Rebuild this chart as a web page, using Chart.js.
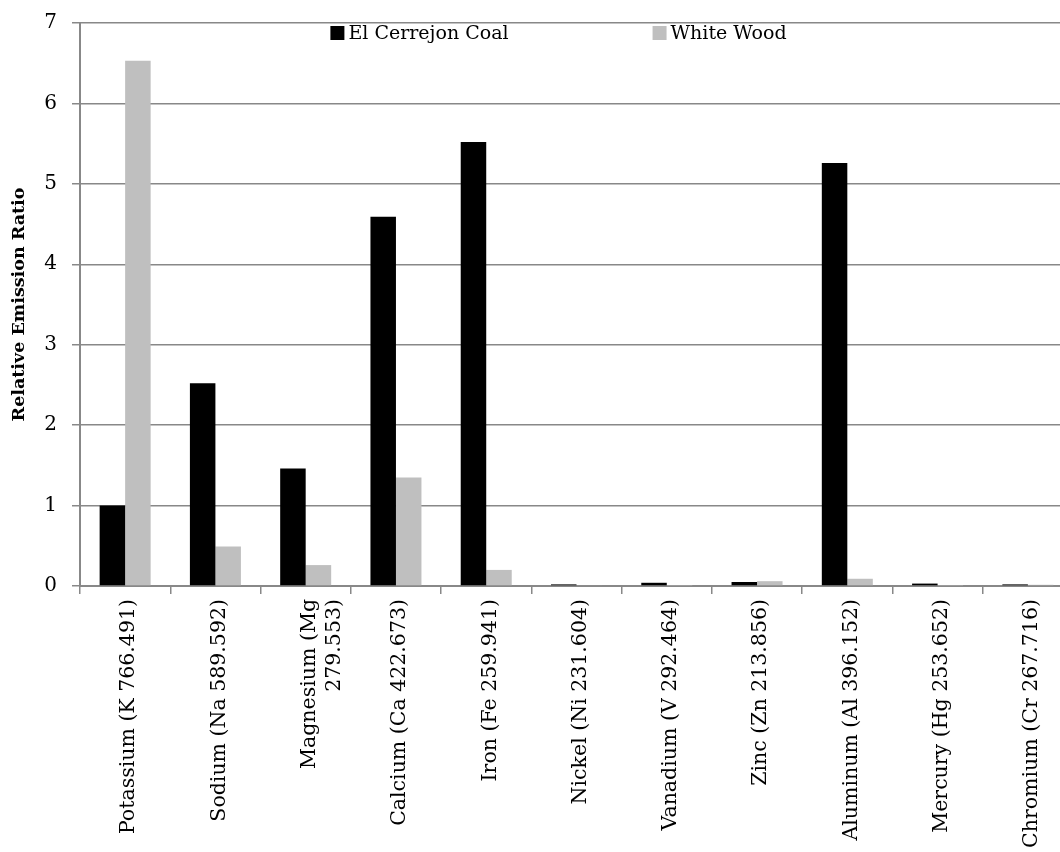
<!DOCTYPE html>
<html>
<head>
<meta charset="utf-8">
<script src="https://cdn.jsdelivr.net/npm/chart.js@4/dist/chart.umd.min.js"></script>
<style>
  html, body { margin: 0; padding: 0; background: #fff; overflow: hidden; }
  #wrap { width: 1060px; height: 852px; overflow: hidden; }
</style>
</head>
<body>
<div id="wrap"><canvas id="emissionChart" width="1080" height="852"></canvas></div>
<script>
const elements = [
    "Potassium (K 766.491)",
    "Sodium (Na 589.592)",
    ["Magnesium (Mg", "279.553)"],
    "Calcium (Ca 422.673)",
    "Iron (Fe 259.941)",
    "Nickel (Ni 231.604)",
    "Vanadium (V 292.464)",
    "Zinc (Zn 213.856)",
    "Aluminum (Al 396.152)",
    "Mercury (Hg 253.652)",
    "Chromium (Cr 267.716)"
];
const coalValues = [1.0, 2.52, 1.46, 4.59, 5.52, 0.02, 0.04, 0.05, 5.26, 0.03, 0.02];
const woodValues = [6.53, 0.49, 0.26, 1.35, 0.2, 0.01, 0.005, 0.06, 0.09, 0.005, 0.015];
const yTicks = [0, 1, 2, 3, 4, 5, 6, 7];

const serif = "'DejaVu Serif', 'Liberation Serif', serif";
const gridGray = "#888888";

// legend drawn inside the plot area, near the top
const insideLegend = {
    id: "insideLegend",
    afterDraw(chart) {
        const ctx = chart.ctx;
        const area = chart.chartArea;
        const box = 14, gap = 4, between = 144;
        ctx.save();
        ctx.font = "19px " + serif;
        ctx.textBaseline = "middle";
        const items = chart.data.datasets.map(ds => ({
            text: ds.label, color: ds.backgroundColor, w: ctx.measureText(ds.label).width
        }));
        let total = 0;
        items.forEach((it, i) => { total += box + gap + it.w + (i ? between : 0); });
        let x = (area.left + area.right) / 2 - total / 2 - 18;
        const y = area.top + 10;
        items.forEach(it => {
            ctx.fillStyle = it.color;
            ctx.fillRect(x, y - box / 2, box, box);
            ctx.fillStyle = "#000";
            ctx.fillText(it.text, x + box + gap, y + 1);
            x += box + gap + it.w + between;
        });
        ctx.restore();
    }
};

const ctx = document.getElementById("emissionChart").getContext("2d");

new Chart(ctx, {
    type: "bar",
    data: {
        labels: elements,
        datasets: [{
            label: "El Cerrejon Coal",
            data: coalValues,
            backgroundColor: "#000000"
        }, {
            label: "White Wood",
            data: woodValues,
            backgroundColor: "#bfbfbf"
        }]
    },
    options: {
        responsive: false,
        animation: false,
        layout: { padding: { top: 23, right: 7, left: 0, bottom: 0 } },
        datasets: {
            bar: { categoryPercentage: 0.565, barPercentage: 1.0 }
        },
        plugins: {
            legend: { display: false },
            tooltip: { enabled: false }
        },
        scales: {
            x: {
                grid: {
                    offset: true,
                    drawOnChartArea: false,
                    drawTicks: true,
                    tickLength: 8,
                    color: gridGray,
                    lineWidth: 1.5
                },
                border: { color: gridGray, width: 2 },
                ticks: {
                    color: "#000",
                    font: { family: serif, size: 20.5 },
                    minRotation: 90,
                    maxRotation: 90,
                    padding: 5,
                    labelOffset: 4,
                    autoSkip: false
                },
                afterFit(scale) {
                    scale.height = 266;
                    scale.paddingLeft = 0;
                    scale.paddingRight = 0;
                }
            },
            y: {
                min: 0,
                max: 7,
                afterBuildTicks(scale) { scale.ticks = yTicks.map(v => ({ value: v })); },
                grid: {
                    color: gridGray,
                    lineWidth: 1.5,
                    tickLength: 8
                },
                border: { color: gridGray, width: 2 },
                ticks: {
                    color: "#000",
                    font: { family: serif, size: 20 },
                    padding: 15
                },
                title: {
                    display: true,
                    text: "Relative Emission Ratio",
                    color: "#000",
                    font: { family: serif, size: 17.5, weight: "bold" },
                    padding: { top: 9, bottom: 0 }
                },
                afterFit(scale) {
                    scale.width = 80;
                    scale.paddingTop = 0;
                    scale.paddingBottom = 0;
                }
            }
        }
    },
    plugins: [insideLegend]
});
</script>
</body>
</html>
